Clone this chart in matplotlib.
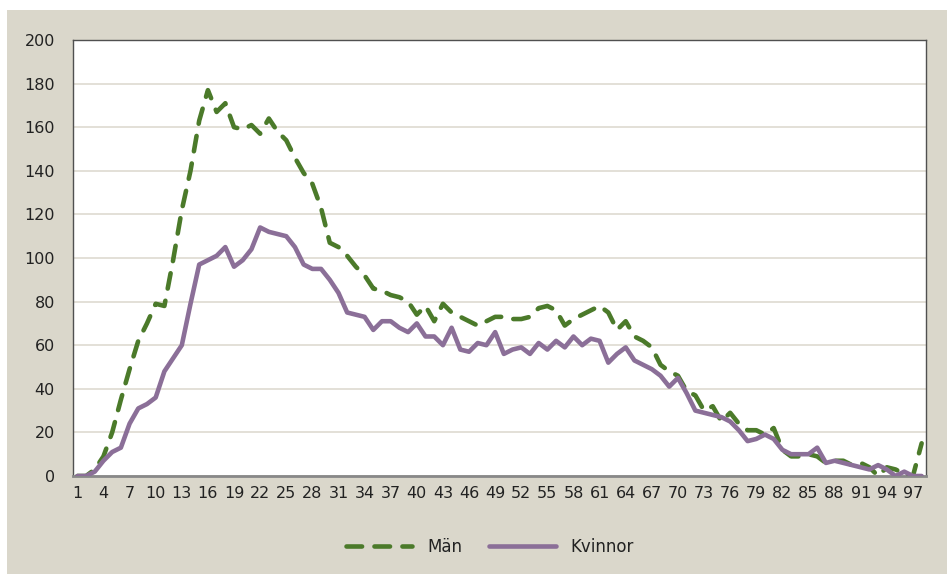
import matplotlib
matplotlib.use("Agg")
import matplotlib.pyplot as plt
from matplotlib.patches import Rectangle

ages = list(range(1, 99))
man = [0, 0, 3, 9, 20, 35, 49, 62, 70, 79,
       78, 99, 122, 140, 163, 177, 167, 171, 160, 159,
       161, 157, 164, 158, 154, 146, 139, 134, 123, 107,
       105, 101, 96, 92, 86, 85, 83, 82, 80, 74,
       78, 71, 79, 75, 73, 71, 69, 71, 73, 73,
       72, 72, 73, 77, 78, 76, 69, 72, 74, 76,
       78, 75, 67, 71, 64, 62, 59, 51, 48, 46,
       39, 37, 30, 32, 25, 29, 24, 21, 21, 19,
       22, 12, 9, 9, 10, 9, 6, 7, 7, 5,
       6, 4, 0, 4, 3, 1, 0, 15]
kvinnor = [0, 0, 2, 7, 11, 13, 24, 31, 33, 36,
           48, 54, 60, 79, 97, 99, 101, 105, 96, 99,
           104, 114, 112, 111, 110, 105, 97, 95, 95, 90,
           84, 75, 74, 73, 67, 71, 71, 68, 66, 70,
           64, 64, 60, 68, 58, 57, 61, 60, 66, 56,
           58, 59, 56, 61, 58, 62, 59, 64, 60, 63,
           62, 52, 56, 59, 53, 51, 49, 46, 41, 45,
           38, 30, 29, 28, 27, 25, 21, 16, 17, 19,
           17, 12, 10, 10, 10, 13, 6, 7, 6, 5,
           4, 3, 5, 3, 0, 2, 0, 0]
xtick_labels = [str(a) for a in range(1, 99, 3)]
yticks = list(range(0, 201, 20))

W, H = 947, 574
fig = plt.figure(figsize=(W / 100, H / 100), dpi=100, facecolor="white")
fig.patches.append(Rectangle((7 / W, 0), 1 - 7 / W, 1 - 10 / H, transform=fig.transFigure,
                             facecolor="#DAD7CB", edgecolor="none", zorder=-10))

ax = fig.add_axes([73 / W, 1 - 476 / H, (926 - 73) / W, (476 - 40) / H])
ax.set_facecolor("white")

green = "#4B7A2A"
purple = "#8B6F98"
ax.plot(ages, man, color=green, lw=3.3, dashes=(3.4, 2.7), dash_capstyle="round",
        solid_joinstyle="round", label="Män", zorder=3)
ax.plot(ages, kvinnor, color=purple, lw=3.3, solid_joinstyle="round",
        solid_capstyle="round", label="Kvinnor", zorder=4)

ax.set_xlim(0.5, 98.5)
ax.set_ylim(0, 200)
ax.set_yticks(yticks)
ax.set_xticks(list(range(1, 99, 3)))
ax.set_xticklabels(xtick_labels)
ax.yaxis.grid(True, color="#E0DDD4", lw=1.3)
ax.set_axisbelow(True)
ax.tick_params(axis="both", length=0, labelsize=11.5, colors="#222222")
ax.tick_params(axis="y", pad=13)
ax.tick_params(axis="x", pad=7)
for s in ["top", "right", "left"]:
    ax.spines[s].set_color("#505050")
    ax.spines[s].set_linewidth(1.0)
ax.spines["bottom"].set_color("#888888")
ax.spines["bottom"].set_linewidth(2.0)

leg = fig.legend(loc="center", bbox_to_anchor=(490 / W, 1 - 547 / H), ncol=2, frameon=False,
                 fontsize=12, handlelength=4.0, columnspacing=1.6, handletextpad=0.9)
for t in leg.get_texts():
    t.set_color("#222222")

fig.savefig("out.png", dpi=100, facecolor=fig.get_facecolor())
